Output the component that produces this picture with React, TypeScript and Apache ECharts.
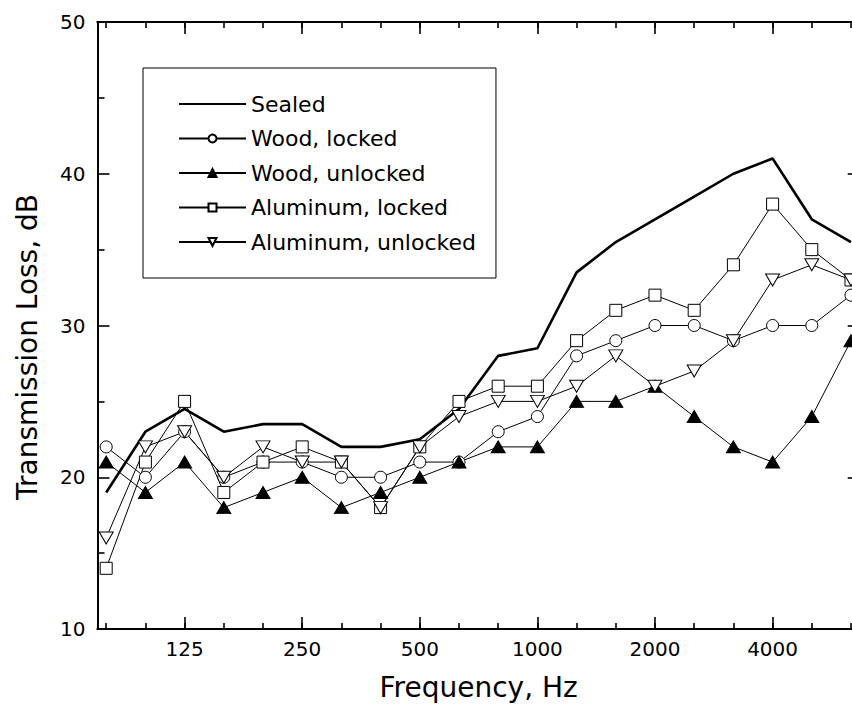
import React, { useEffect, useRef } from "react";
import * as echarts from "echarts";

// One-third-octave band centre frequencies (Hz)
const bands = ["80", "100", "125", "160", "200", "250", "315", "400", "500", "630", "800", "1000", "1250", "1600", "2000", "2500", "3150", "4000", "5000", "6300"];
const labeledBands = ["125", "250", "500", "1000", "2000", "4000"];

const sealed = [19, 23, 24.5, 23, 23.5, 23.5, 22, 22, 22.5, 24.5, 28, 28.5, 33.5, 35.5, 37, 38.5, 40, 41, 37, 35.5];
const woodLocked = [22, 20, 23, 20, 21, 21, 20, 20, 21, 21, 23, 24, 28, 29, 30, 30, 29, 30, 30, 32];
const woodUnlocked = [21, 19, 21, 18, 19, 20, 18, 19, 20, 21, 22, 22, 25, 25, 26, 24, 22, 21, 24, 29];
const aluminumLocked = [14, 21, 25, 19, 21, 22, 21, 18, 22, 25, 26, 26, 29, 31, 32, 31, 34, 38, 35, 33];
const aluminumUnlocked = [16, 22, 23, 20, 22, 21, 21, 18, 22, 24, 25, 25, 26, 28, 26, 27, 29, 33, 34, 33];

const yTicks = [10, 20, 30, 40, 50];

const FONT = "DejaVu Sans";

export default function App() {
  const ref = useRef<HTMLDivElement>(null);

  useEffect(() => {
    if (!ref.current) return;
    const chart = echarts.init(ref.current, null, { renderer: "svg" });

    const toPairs = (arr: number[]) => arr.map((v, i) => [i, v]);
    const allIdx = bands.map((_, i) => i);
    const majorIdx = labeledBands.map((b) => bands.indexOf(b));
    const xMin = -0.222;
    const xMax = bands.length - 1 + 0.222;

    const axisLineStyle = { color: "#000", width: 2 };
    const tickStyle = { color: "#000", width: 1.6 };

    const baseX = (position: string, major: boolean, withLabels: boolean) => ({
      type: "value",
      position,
      min: xMin,
      max: xMax,
      axisLine: { show: true, onZero: false, lineStyle: axisLineStyle },
      splitLine: { show: false },
      axisTick: {
        show: true,
        inside: true,
        length: major ? 12 : 6,
        customValues: major ? majorIdx : allIdx,
        lineStyle: tickStyle,
      },
      axisLabel: withLabels
        ? {
            show: true,
            customValues: majorIdx,
            margin: 10,
            color: "#000",
            fontFamily: FONT,
            fontSize: 20,
            formatter: (v: number) => bands[Math.round(v)],
          }
        : { show: false },
    });

    const xAxes: any[] = [
      {
        ...baseX("bottom", true, true),
        name: "Frequency, Hz",
        nameLocation: "middle",
        nameGap: 44,
        nameTextStyle: { color: "#000", fontFamily: FONT, fontSize: 28 },
      },
      baseX("bottom", false, false),
      baseX("top", true, false),
      baseX("top", false, false),
    ];

    const baseY = (position: string, withLabels: boolean) => ({
      type: "value",
      position,
      min: yTicks[0],
      max: yTicks[yTicks.length - 1],
      interval: yTicks[1] - yTicks[0],
      axisLine: { show: true, onZero: false, lineStyle: axisLineStyle },
      splitLine: { show: false },
      axisTick: { show: true, inside: true, length: 12, lineStyle: tickStyle },
      minorTick: { show: true, splitNumber: 2, length: 7, lineStyle: tickStyle },
      minorSplitLine: { show: false },
      axisLabel: withLabels
        ? { show: true, margin: 12, color: "#000", fontFamily: FONT, fontSize: 20 }
        : { show: false },
    });

    const markerSeries = (name: string, data: number[], symbol: string, fill: string, rotate = 0, size: any = 12) => ({
      name,
      type: "line",
      data: toPairs(data),
      xAxisIndex: 0,
      yAxisIndex: 0,
      symbol,
      symbolSize: size,
      symbolRotate: rotate,
      showSymbol: true,
      color: "#000",
      lineStyle: { color: "#000", width: 1 },
      itemStyle: { color: fill, borderColor: "#000", borderWidth: 1 },
      emphasis: { disabled: true },
    });

    chart.setOption({
      animation: false,
      backgroundColor: "#fff",
      grid: { left: 97.5, top: 22, right: 0.3, bottom: 82, containLabel: false },
      xAxis: xAxes,
      yAxis: [baseY("left", true), baseY("right", false)],
      legend: {
        show: true,
        orient: "vertical",
        left: 143,
        top: 68,
        padding: [24, 20, 24, 35],
        itemWidth: 67,
        itemHeight: 10,
        itemGap: 10.5,
        borderColor: "#000",
        borderWidth: 1,
        selectedMode: false,
        symbolRotate: "inherit",
        textStyle: { color: "#000", fontFamily: FONT, fontSize: 22, lineHeight: 24 },
        data: [
          { name: "Sealed", itemStyle: { opacity: 0, color: "rgba(0,0,0,0)", borderWidth: 0 } },
          "Wood, locked",
          "Wood, unlocked",
          "Aluminum, locked",
          "Aluminum, unlocked",
        ],
      },
      graphic: [
        {
          type: "text",
          x: 27,
          y: 347,
          rotation: Math.PI / 2,
          style: {
            text: "Transmission Loss, dB",
            fill: "#000",
            font: `28px '${FONT}'`,
            textAlign: "center",
            textVerticalAlign: "middle",
          },
        },
      ],
      series: [
        {
          name: "Sealed",
          type: "line",
          data: toPairs(sealed),
          symbol: "none",
          color: "#000",
          lineStyle: { color: "#000", width: 2.6 },
          itemStyle: { color: "rgba(0,0,0,0)", borderWidth: 0 },
          emphasis: { disabled: true },
        },
        markerSeries("Wood, locked", woodLocked, "circle", "#fff", 0, 12),
        markerSeries("Wood, unlocked", woodUnlocked, "triangle", "#000", 0, [14, 12]),
        markerSeries("Aluminum, locked", aluminumLocked, "rect", "#fff", 0, 12),
        markerSeries("Aluminum, unlocked", aluminumUnlocked, "triangle", "#fff", 180, [14, 12]),
      ],
    });

    return () => chart.dispose();
  }, []);

  return (
    <div style={{ position: "absolute", left: 0, top: 0, width: 852, height: 711, overflow: "hidden", background: "#fff" }}>
      <div ref={ref} style={{ width: 860, height: 711 }} />
    </div>
  );
}
